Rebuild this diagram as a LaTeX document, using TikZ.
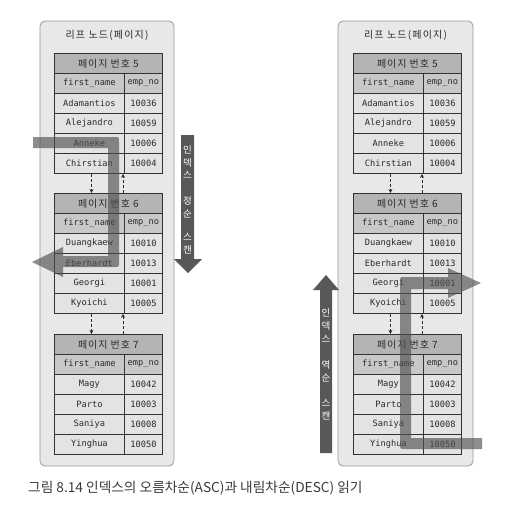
\documentclass[tikz,border=0pt]{standalone}
\usepackage{fontspec}
\setmainfont{Noto Sans CJK KR}
\newfontfamily\kr{Noto Sans CJK KR}
\newfontfamily\krw[LetterSpace=9]{Noto Sans CJK KR}
\newfontfamily\krt[LetterSpace=12]{Noto Sans CJK KR}
\newfontfamily\mono{DejaVu Sans Mono}
\usetikzlibrary{arrows.meta}
\definecolor{panelfill}{HTML}{E8E8E8}
\definecolor{panelline}{HTML}{9A9A9A}
\definecolor{hdrfill}{HTML}{B4B4B4}
\definecolor{colfill}{HTML}{C8C8C8}
\definecolor{cellfill}{HTML}{E3E3E3}
\definecolor{gridline}{HTML}{333333}
\definecolor{txt}{HTML}{2A2A2A}
\definecolor{scanarrow}{HTML}{585858}
\definecolor{band}{HTML}{505050}
\definecolor{captxt}{HTML}{3A3A3A}
\tikzset{
 cellbase/.style={draw=gridline, line width=0.8pt, inner sep=0pt, minimum height=20pt, text=txt, font=\mono\fontsize{8.7}{10}\selectfont},
 hdr/.style={cellbase, fill=hdrfill, minimum width=108pt, font=\krw\fontsize{10}{11}\selectfont},
 colwa/.style={minimum width=70pt},
 colwb/.style={minimum width=38pt},
 colhead/.style={cellbase, fill=colfill},
 cell/.style={cellbase, fill=cellfill},
 panel/.style={draw=panelline, fill=panelfill, line width=0.8pt, rounded corners=5pt, inner sep=0pt, minimum height=445pt},
 paneltitle/.style={font=\krt\fontsize{10}{11}\selectfont, text=txt, inner sep=0pt},
 dasharrow/.style={draw=txt, line width=0.8pt, dash pattern=on 3pt off 2pt, -{Stealth[length=4pt,width=4pt]}},
 scanlabel/.style={font=\kr\fontsize{9.5}{10}\selectfont, text=white, inner sep=0pt},
 bandfill/.style={fill=band, fill opacity=0.65},
}
\newcommand{\pagetable}[5]{%
 \node[hdr, anchor=north west] (#1h) at (#2,#3) {페이지 번호 #4};
 \node[colhead, colwa, anchor=north west] (#1ca) at (#2,#3+20) {first\_name};
 \node[colhead, colwb, anchor=north west] (#1cb) at (#2+70,#3+20) {emp\_no};
 \foreach \nm/\vl [count=\i] in {#5} {
  \node[cell, colwa, anchor=north west] (#1a\i) at (#2,#3+20+20*\i) {\nm};
  \node[cell, colwb, anchor=north west] (#1b\i) at (#2+70,#3+20+20*\i) {\vl};
 }
}
\newcommand{\pagelinks}[2]{%
 \draw[dasharrow] ([xshift=2pt]#1a4.south) -- ([xshift=2pt]#1a4.south |- #2h.north);
 \draw[dasharrow] ([xshift=-1pt]#2cb.north west |- #2h.north) -- ([xshift=-1pt]#1b4.south west);
}
\begin{document}
\begin{tikzpicture}[x=1pt,y=-1pt]
\useasboundingbox (0,0) rectangle (507,525);
% panels
\node[panel, minimum width=134pt] (LP) at (107,243.5) {};
\node[panel, minimum width=135pt] (RP) at (405.5,243.5) {};
\node[paneltitle] (LT) at (107,35) {리프 노드(페이지)};
\node[paneltitle] (RT) at (405.5,35) {리프 노드(페이지)};
% left tables
\pagetable{LA}{54}{53}{5}{Adamantios/10036,Alejandro/10059,Anneke/10006,Chirstian/10004}
\pagetable{LB}{54}{193}{6}{Duangkaew/10010,Eberhardt/10013,Georgi/10001,Kyoichi/10005}
\pagetable{LC}{54}{334}{7}{Magy/10042,Parto/10003,Saniya/10008,Yinghua/10050}
\pagelinks{LA}{LB}
\pagelinks{LB}{LC}
% right tables
\pagetable{RA}{353}{53}{5}{Adamantios/10036,Alejandro/10059,Anneke/10006,Chirstian/10004}
\pagetable{RB}{353}{193}{6}{Duangkaew/10010,Eberhardt/10013,Georgi/10001,Kyoichi/10005}
\pagetable{RC}{353}{334}{7}{Magy/10042,Parto/10003,Saniya/10008,Yinghua/10050}
\pagelinks{RA}{RB}
\pagelinks{RB}{RC}
% scan bands
\fill[bandfill] (33,137) -- (114,137) .. controls (119,137) .. (119,142) -- (119,262) .. controls (119,267) .. (114,267) -- (63,267) -- (63,277) -- (32,262) -- (63,247) -- (63,256) -- (108,256) -- (108,148) -- (33,148) -- cycle;
\fill[bandfill] (482,438) -- (411,438) -- (411,289) -- (448,289) -- (448,298) -- (481,283) -- (448,268) -- (448,277) -- (405,277) .. controls (400,277) .. (400,282) -- (400,444) .. controls (400,449) .. (405,449) -- (482,449) -- cycle;
% label arrows
\fill[scanarrow] (181,135) -- (194,135) -- (194,259) -- (202,259) -- (188,273) -- (174,259) -- (181,259) -- cycle;
\fill[scanarrow] (320,453) -- (332,453) -- (332,290) -- (339,290) -- (326,275) -- (313,290) -- (320,290) -- cycle;
\foreach \c/\yy [count=\k] in {인/150,덱/162.5,스/175,정/201,순/213.5,스/237,캔/249.5}
  \node[scanlabel] (ascl\k) at (187.5,\yy) {\c};
\foreach \c/\yy [count=\k] in {인/313,덱/326,스/339,역/365,순/378,스/403,캔/416}
  \node[scanlabel] (descl\k) at (326,\yy) {\c};
% caption
\node[anchor=west, inner sep=0pt, font=\kr\fontsize{13.7}{15}\selectfont, text=captxt] (cap) at (28,488) {그림 8.14 인덱스의 오름차순(ASC)과 내림차순(DESC) 읽기};
\end{tikzpicture}
\end{document}
